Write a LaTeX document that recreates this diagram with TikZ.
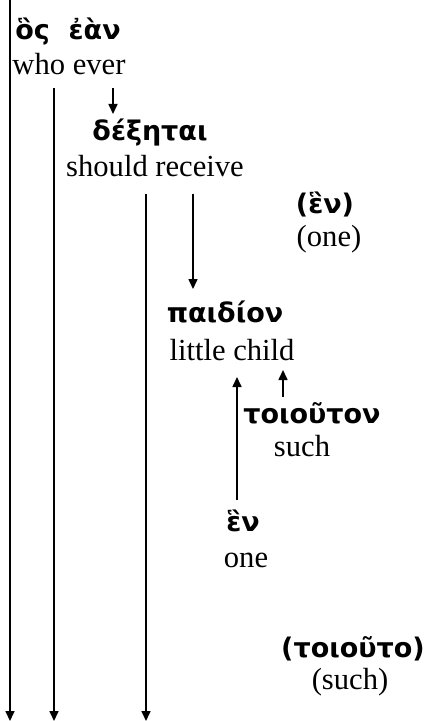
\documentclass[tikz,border=0pt]{standalone}
\usepackage{fontspec}
\setmainfont{Liberation Serif}
\newfontfamily\grkfont{DejaVu Sans}[Script=Greek]
\usetikzlibrary{arrows.meta}
\begin{document}
\begin{tikzpicture}[x=0.5pt,y=-0.5pt,
  eng/.style={font=\fontsize{15.3}{17}\selectfont, inner sep=0pt, anchor=base},
  grk/.style={font=\grkfont\bfseries\fontsize{13.5}{16}\selectfont, inner sep=0pt, anchor=base},
  arr/.style={-{Triangle[length=5pt,width=4.5pt]}, line width=0.8pt}]
\useasboundingbox (0,0) rectangle (425,721);
% texts
\node[grk] (g1) at (68,40) {ὃς\ \ ἐὰν};
\node[eng] (e1) at (69,75) {who ever};
\node[grk] (g2) at (150,141) {δέξηται};
\node[eng] (e2) at (155,177) {should receive};
\node[grk] (g3) at (325,214) {(ἓν)};
\node[eng] (e3) at (329,247) {(one)};
\node[grk] (g4) at (225,322) {παιδίον};
\node[eng] (e4) at (232,360) {little child};
\node[grk] (g5) at (312,423) {τοιοῦτον};
\node[eng] (e5) at (302,456) {such};
\node[grk] (g6) at (243,531) {ἓν};
\node[eng] (e6) at (246,567) {one};
\node[grk] (g7) at (353,657) {(τοιοῦτο)};
\node[eng] (e7) at (350,689) {(such)};
% connector ends
\coordinate (t1) at (10,0);    \coordinate (b1) at (10,721);
\coordinate (t2) at (54,88);   \coordinate (b2) at (54,721);
\coordinate (t3) at (146,194); \coordinate (b3) at (146,721);
\coordinate (a1) at (113,88);  \coordinate (a2) at (113,114);
\coordinate (c1) at (193,194); \coordinate (c2) at (193,289);
\coordinate (d1) at (237,500); \coordinate (d2) at (237,377);
\coordinate (f1) at (283,397); \coordinate (f2) at (283,370);
\draw[arr] (t1) -- (b1);
\draw[arr] (t2) -- (b2);
\draw[arr] (t3) -- (b3);
\draw[arr] (a1) -- (a2);
\draw[arr] (c1) -- (c2);
\draw[arr] (d1) -- (d2);
\draw[arr] (f1) -- (f2);
\end{tikzpicture}
\end{document}
